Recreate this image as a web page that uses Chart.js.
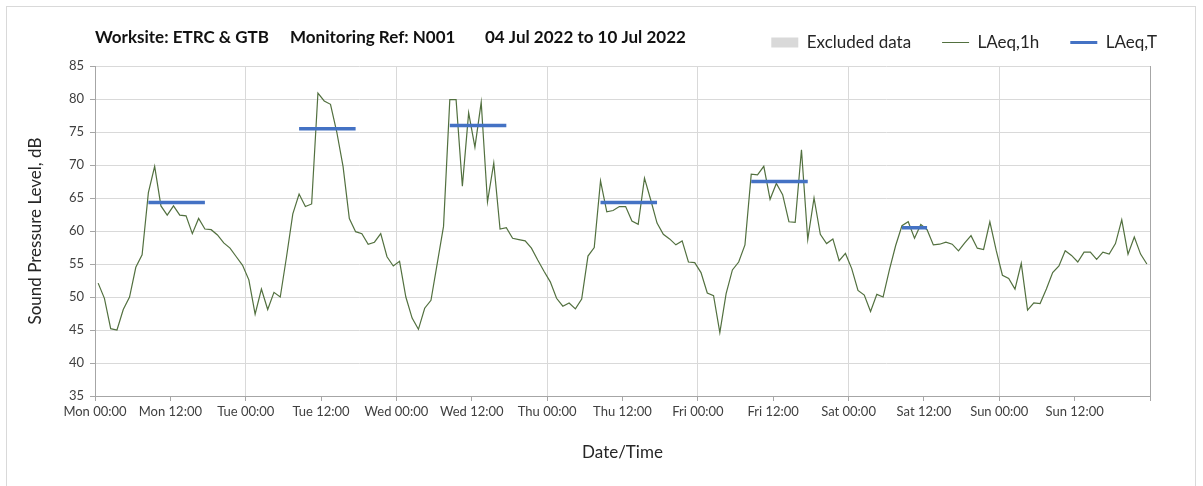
<!DOCTYPE html>
<html>
<head>
<meta charset="utf-8">
<script src="https://cdn.jsdelivr.net/npm/chart.js@4.4.0/dist/chart.umd.min.js"></script>
<style>
  html, body { margin: 0; padding: 0; background: #fff; }
  #frame { position: absolute; left: 6px; top: 6px; width: 1188px; height: 520px; border: 1px solid #d9d9d9; }
  #wrap { position: absolute; left: 0; top: 0; width: 1203px; height: 486px; }
</style>
</head>
<body>
<div id="frame"></div>
<div id="wrap"><canvas id="chart"></canvas></div>
<script>
// hourly LAeq,1h, Mon 00:00 -> Sun 23:00 (one value per hour)
const laeq1h = [
  52.1, 49.8, 45.2, 45.0, 48.1, 50.0, 54.5, 56.4, 65.8, 69.8, 63.8, 62.4,
  63.8, 62.4, 62.3, 59.6, 61.9, 60.3, 60.2, 59.4, 58.2, 57.4, 56.1, 54.8,
  52.6, 47.4, 51.2, 48.1, 50.7, 50.0, 56.1, 62.6, 65.6, 63.7, 64.1, 80.9,
  79.7, 79.2, 75.0, 69.8, 61.9, 59.9, 59.6, 58.0, 58.3, 59.6, 56.1, 54.7,
  55.4, 50.0, 46.8, 45.1, 48.3, 49.5, 55.1, 60.7, 79.9, 79.9, 66.8, 77.9,
  72.7, 79.5, 64.4, 70.3, 60.3, 60.5, 58.9, 58.7, 58.5, 57.4, 55.6, 53.9,
  52.3, 49.8, 48.6, 49.1, 48.2, 49.7, 56.2, 57.5, 67.6, 62.9, 63.1, 63.7,
  63.7, 61.5, 61.0, 68.0, 64.7, 61.2, 59.5, 58.8, 57.9, 58.5, 55.3, 55.2,
  53.7, 50.6, 50.2, 44.6, 50.5, 54.1, 55.3, 57.9, 68.6, 68.5, 69.8, 64.8,
  67.2, 65.5, 61.4, 61.3, 72.3, 58.7, 65.0, 59.5, 58.1, 58.8, 55.5, 56.6,
  54.3, 51.0, 50.3, 47.8, 50.4, 50.0, 54.1, 57.8, 60.8, 61.4, 58.9, 61.0,
  60.2, 57.9, 58.0, 58.3, 58.0, 57.0, 58.2, 59.3, 57.4, 57.2, 61.4, 57.1,
  53.3, 52.8, 51.2, 55.1, 48.0, 49.1, 49.0, 51.2, 53.7, 54.7, 57.0, 56.3,
  55.3, 56.8, 56.8, 55.7, 56.8, 56.5, 58.1, 61.7, 56.5, 59.1, 56.5, 55.0
];

// LAeq,T monitoring periods (hours from Mon 00:00, first and last hourly mid-points)
const periodStart = [8.5, 32.5, 56.5, 80.5, 104.5, 128.5];
const periodEnd   = [17.5, 41.5, 65.5, 89.5, 113.5, 132.5];
const laeqT       = [64.3, 75.5, 76.0, 64.3, 67.5, 60.5];

const tickHours  = [0, 12, 24, 36, 48, 60, 72, 84, 96, 108, 120, 132, 144, 156, 168];
const tickLabels = ['Mon 00:00', 'Mon 12:00', 'Tue 00:00', 'Tue 12:00', 'Wed 00:00', 'Wed 12:00',
  'Thu 00:00', 'Thu 12:00', 'Fri 00:00', 'Fri 12:00', 'Sat 00:00', 'Sat 12:00',
  'Sun 00:00', 'Sun 12:00', ''];

const titleParts = ['Worksite: ETRC & GTB', 'Monitoring Ref: N001', '04 Jul 2022 to 10 Jul 2022'];
const titleOffsets = [0, 195, 390];

const green = '#52703f';
const blue = '#4472c4';
const fontFamily = 'Lato, "Open Sans", sans-serif';

const hourlyPoints = laeq1h.map((v, i) => ({ x: i + 0.5, y: v }));
const periodPoints = [];
laeqT.forEach((v, i) => {
  periodPoints.push({ x: periodStart[i], y: v });
  periodPoints.push({ x: periodEnd[i], y: v });
  periodPoints.push({ x: periodEnd[i] + 0.5, y: null });
});

const headerTitle = {
  id: 'headerTitle',
  afterDraw(chart) {
    const ctx = chart.ctx;
    ctx.save();
    ctx.font = 'bold 17px ' + fontFamily;
    ctx.fillStyle = '#111';
    ctx.textBaseline = 'middle';
    titleParts.forEach((t, i) => {
      ctx.fillText(t, chart.chartArea.left + titleOffsets[i], 38);
    });
    ctx.restore();
  }
};

const ctx = document.getElementById('chart').getContext('2d');
const myChart = new Chart(ctx, {
  type: 'line',
  data: {
    datasets: [
      { label: 'Excluded data', data: [], backgroundColor: '#d9d9d9', borderColor: '#d9d9d9', order: 2 },
      { label: 'LAeq,1h', data: hourlyPoints, borderColor: green, borderWidth: 1.2,
        pointRadius: 0, tension: 0, order: 1 },
      { label: 'LAeq,T', data: periodPoints, borderColor: blue, borderWidth: 3.5,
        pointRadius: 0, spanGaps: false, order: 0 }
    ]
  },
  options: {
    responsive: true,
    maintainAspectRatio: false,
    devicePixelRatio: 1,
    animation: false,
    layout: { padding: { left: 0, right: 15, top: 3, bottom: 0 } },
    plugins: {
      tooltip: { enabled: false },
      legend: {
        position: 'top',
        align: 'end',
        labels: {
          usePointStyle: true,
          pointStyleWidth: 27,
          boxHeight: 10,
          padding: 31,
          color: '#262626',
          font: { family: fontFamily, size: 17 },
          generateLabels(chart) {
            return chart.data.datasets.map((ds, i) => ({
              text: ds.label,
              datasetIndex: i,
              pointStyle: i === 0 ? 'rect' : 'line',
              fillStyle: i === 0 ? '#d9d9d9' : ds.borderColor,
              strokeStyle: i === 0 ? '#d9d9d9' : ds.borderColor,
              lineWidth: i === 0 ? 0 : (i === 1 ? 1 : 3),
              fontColor: '#262626',
              hidden: false
            }));
          }
        }
      }
    },
    scales: {
      x: {
        type: 'linear',
        min: 0,
        max: 168,
        afterBuildTicks(scale) { scale.ticks = tickHours.map(v => ({ value: v })); },
        afterFit(scale) { scale.height = 90; },
        ticks: {
          autoSkip: false,
          maxRotation: 0,
          padding: 3,
          color: '#404040',
          font: { family: fontFamily, size: 13 },
          callback: (v) => tickLabels[tickHours.indexOf(v)]
        },
        grid: {
          color: (c) => {
            const v = c.tick ? c.tick.value : 0;
            if (v === 168) return '#a6a6a6';
            return v % 24 === 0 ? '#d9d9d9' : 'rgba(0,0,0,0)';
          },
          tickColor: '#a6a6a6',
          tickLength: 5
        },
        border: { color: '#a6a6a6' },
        title: {
          display: true,
          text: 'Date/Time',
          color: '#262626',
          font: { family: fontFamily, size: 17 },
          padding: { top: 4, bottom: 23 }
        }
      },
      y: {
        min: 35,
        max: 85,
        afterFit(scale) { scale.width = 95; },
        ticks: {
          stepSize: 5,
          padding: 6,
          color: '#404040',
          font: { family: fontFamily, size: 13 }
        },
        grid: { color: '#d9d9d9', tickColor: '#a6a6a6', tickLength: 5 },
        border: { color: '#a6a6a6' },
        title: {
          display: true,
          text: 'Sound Pressure Level, dB',
          color: '#262626',
          font: { family: fontFamily, size: 17 },
          padding: { top: 25, bottom: 4 }
        }
      },
      topSpacer: {
        type: 'linear', position: 'top', min: 0, max: 1,
        afterFit(scale) { scale.height = 5; },
        grid: { display: false }, border: { display: false }, ticks: { display: false }
      },
      rightSpacer: {
        type: 'linear', position: 'right', min: 0, max: 1,
        afterFit(scale) { scale.width = 38; },
        grid: { display: false }, border: { display: false }, ticks: { display: false }
      }
    }
  },
  plugins: [headerTitle]
});
</script>
</body>
</html>
